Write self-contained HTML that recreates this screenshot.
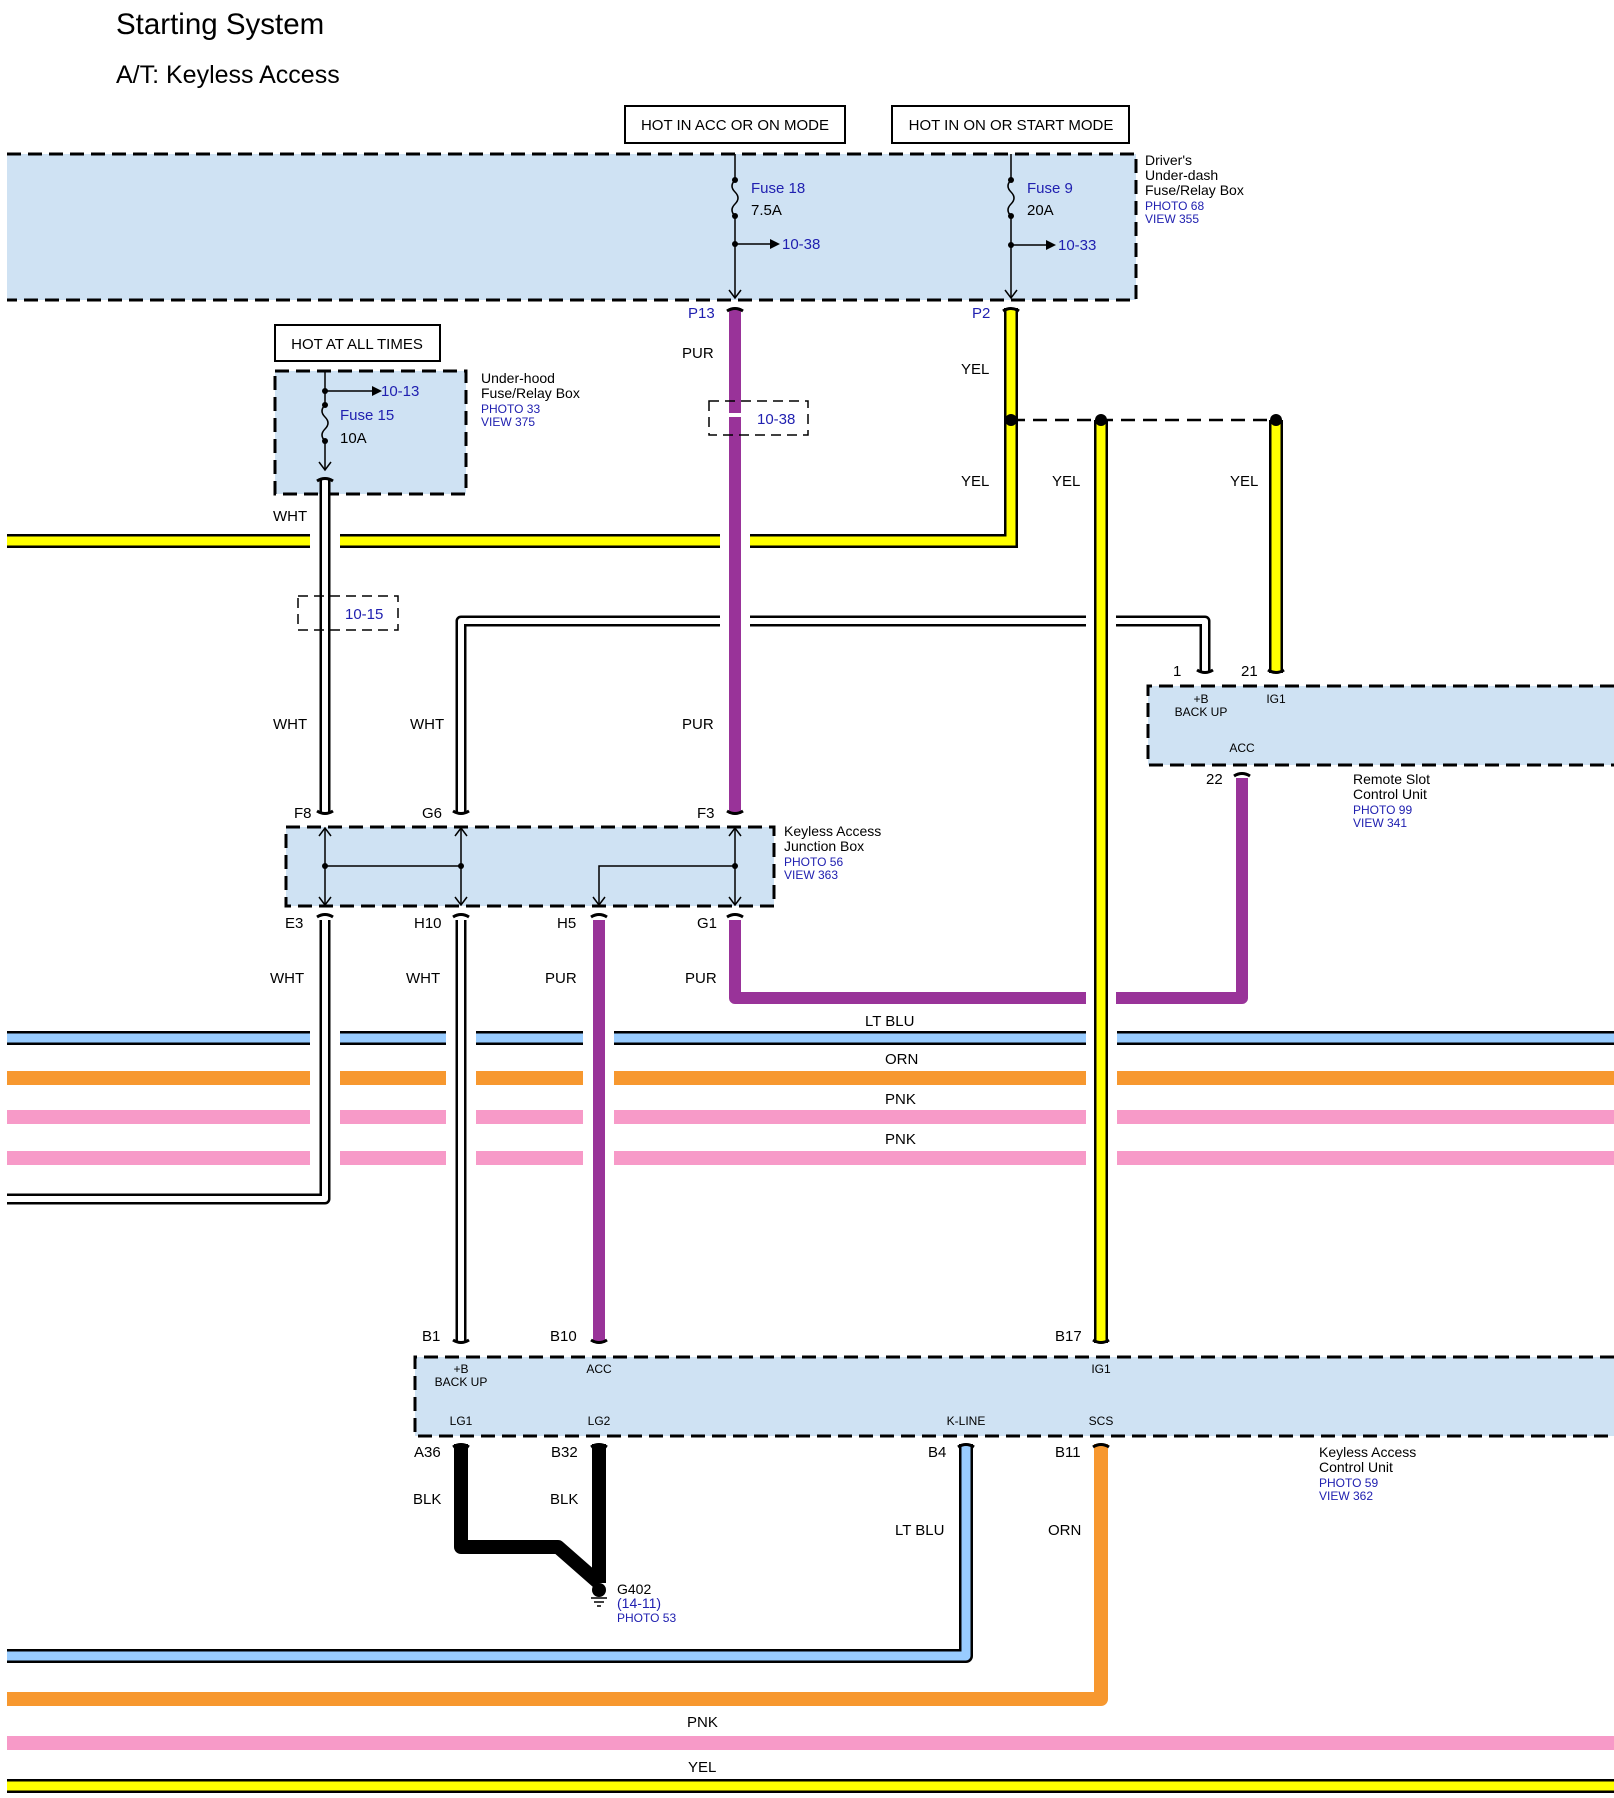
<!DOCTYPE html>
<html><head><meta charset="utf-8"><style>
html,body{margin:0;padding:0;background:#fff}
svg{display:block}
text{font-family:"Liberation Sans",Arial,sans-serif;fill:#000}
.b{fill:#2020b0}
</style></head><body>
<svg width="1614" height="1798" viewBox="0 0 1614 1798" xmlns="http://www.w3.org/2000/svg">
<text x="116" y="34" font-size="29.5">Starting System</text>
<text x="116" y="83" font-size="25">A/T: Keyless Access</text>

<!-- boxes -->
<g stroke="#000" stroke-width="3" stroke-dasharray="14,7" fill="#cfe2f3">
<path d="M7 154 H1136 V300 H7"/>
<rect x="275" y="371" width="191" height="123"/>
<path d="M1614 686 H1148 V765 H1614"/>
<rect x="286" y="827" width="488" height="79"/>
<path d="M1614 1357 H415 V1436 H1614"/>
</g>
<g fill="#fff" stroke="#000" stroke-width="2">
<rect x="625" y="106" width="220" height="37"/>
<rect x="892" y="106" width="237" height="37"/>
<rect x="275" y="325" width="165" height="36"/>
</g>
<g font-size="15">
<text x="735" y="130" text-anchor="middle">HOT IN ACC OR ON MODE</text>
<text x="1011" y="130" text-anchor="middle">HOT IN ON OR START MODE</text>
<text x="357" y="349" text-anchor="middle">HOT AT ALL TIMES</text>
</g>

<!-- fuse lines -->
<g stroke="#000" stroke-width="1.5" fill="none">
<path d="M735 154 V180 q-6 6 0 12 q6 6 0 12 q-6 6 0 12 V297"/>
<path d="M1011 154 V180 q-6 6 0 12 q6 6 0 12 q-6 6 0 12 V297"/>
<path d="M735 244 H770"/><path d="M1011 245 H1046"/>
<path d="M325 371 V405 q-6 6 0 12 q6 6 0 12 q-6 6 0 12 V470"/>
<path d="M325 391 H372"/>
<path d="M729 290 l6 8 l6 -8 M1005 290 l6 8 l6 -8 M319 462 l6 8 l6 -8"/>
</g>
<g fill="#000">
<circle cx="735" cy="180" r="3"/><circle cx="735" cy="216" r="3"/><circle cx="735" cy="244" r="3"/>
<circle cx="1011" cy="180" r="3"/><circle cx="1011" cy="216" r="3"/><circle cx="1011" cy="245" r="3"/>
<circle cx="325" cy="405" r="3"/><circle cx="325" cy="441" r="3"/><circle cx="325" cy="391" r="3"/>
<path d="M770 239 l10 5 l-10 5z M1046 240 l10 5 l-10 5z M372 386 l10 5 l-10 5z"/>
</g>
<g font-size="15">
<text x="751" y="193" class="b">Fuse 18</text><text x="751" y="215">7.5A</text>
<text x="782" y="249" class="b">10-38</text>
<text x="1027" y="193" class="b">Fuse 9</text><text x="1027" y="215">20A</text>
<text x="1058" y="250" class="b">10-33</text>
<text x="340" y="420" class="b">Fuse 15</text><text x="340" y="443">10A</text>
<text x="381" y="396" class="b">10-13</text>
</g>
<g font-size="14">
<text x="1145" y="165">Driver's</text><text x="1145" y="180">Under-dash</text><text x="1145" y="195">Fuse/Relay Box</text>
<text x="1145" y="210" class="b" font-size="12">PHOTO 68</text><text x="1145" y="223" class="b" font-size="12">VIEW 355</text>
<text x="481" y="383">Under-hood</text><text x="481" y="398">Fuse/Relay Box</text>
<text x="481" y="413" class="b" font-size="12">PHOTO 33</text><text x="481" y="426" class="b" font-size="12">VIEW 375</text>
<text x="784" y="836">Keyless Access</text><text x="784" y="851">Junction Box</text>
<text x="784" y="866" class="b" font-size="12">PHOTO 56</text><text x="784" y="879" class="b" font-size="12">VIEW 363</text>
<text x="1353" y="784">Remote Slot</text><text x="1353" y="799">Control Unit</text>
<text x="1353" y="814" class="b" font-size="12">PHOTO 99</text><text x="1353" y="827" class="b" font-size="12">VIEW 341</text>
<text x="1319" y="1457">Keyless Access</text><text x="1319" y="1472">Control Unit</text>
<text x="1319" y="1487" class="b" font-size="12">PHOTO 59</text><text x="1319" y="1500" class="b" font-size="12">VIEW 362</text>
<text x="617" y="1594">G402</text><text x="617" y="1608" class="b">(14-11)</text>
<text x="617" y="1622" class="b" font-size="12">PHOTO 53</text>
</g>

<!-- bus horizontal lines -->
<g fill="none">
<path d="M7 541 H1011 V308" stroke="#000" stroke-width="14"/>
<path d="M7 541 H1011 V308" stroke="#ff0" stroke-width="9"/>
<path d="M7 1038 H1614" stroke="#000" stroke-width="14"/>
<path d="M7 1038 H1614" stroke="#99ccff" stroke-width="9"/>
<path d="M7 1078 H1614" stroke="#f7982f" stroke-width="14"/>
<path d="M7 1117 H1614" stroke="#f79ac8" stroke-width="14"/>
<path d="M7 1158 H1614" stroke="#f79ac8" stroke-width="14"/>
<path d="M461 814 V621 H1205 V673" stroke="#000" stroke-width="11" stroke-linejoin="round"/>
<path d="M461 814 V621 H1205 V673" stroke="#fff" stroke-width="6" stroke-linejoin="round"/>
</g>
<!-- gaps -->
<g fill="#fff">
<rect x="310" y="530" width="30" height="22"/><rect x="720" y="530" width="30" height="22"/>
<rect x="720" y="612" width="30" height="18"/><rect x="1086" y="612" width="30" height="18"/>
<rect x="310" y="1028" width="30" height="140"/><rect x="446" y="1028" width="30" height="140"/>
<rect x="583" y="1028" width="31" height="140"/><rect x="1086" y="1028" width="31" height="140"/>
</g>

<g fill="none" stroke-linejoin="round">
<path d="M735 308 V814" stroke="#993399" stroke-width="12"/>
<path d="M735 920 V998 H1242 V778" stroke="#993399" stroke-width="12"/>
<rect x="1086" y="985" width="30" height="26" fill="#fff" stroke="none"/>
<path d="M599 920 V1343" stroke="#993399" stroke-width="12"/>
<path d="M1101 420 V1343" stroke="#000" stroke-width="14"/>
<path d="M1101 420 V1343" stroke="#ff0" stroke-width="9"/>
<path d="M1276 420 V673" stroke="#000" stroke-width="14"/>
<path d="M1276 420 V673" stroke="#ff0" stroke-width="9"/>
<path d="M1011 420 H1276" stroke="#000" stroke-width="2.5" stroke-dasharray="14,8"/>
<path d="M325 478 V814" stroke="#000" stroke-width="11"/>
<path d="M325 478 V814" stroke="#fff" stroke-width="6"/>
<path d="M325 920 V1199 H7" stroke="#000" stroke-width="11"/>
<path d="M325 920 V1199 H7" stroke="#fff" stroke-width="6"/>
<path d="M461 920 V1343" stroke="#000" stroke-width="11"/>
<path d="M461 920 V1343" stroke="#fff" stroke-width="6"/>
<path d="M461 1444 V1547 H558 L599 1583" stroke="#000" stroke-width="14"/>
<path d="M599 1444 V1583" stroke="#000" stroke-width="14"/>
<path d="M966 1444 V1656 H7" stroke="#000" stroke-width="14"/>
<path d="M966 1444 V1656 H7" stroke="#99ccff" stroke-width="9"/>
<path d="M1101 1444 V1699 H7" stroke="#f7982f" stroke-width="14"/>
<path d="M7 1743 H1614" stroke="#f79ac8" stroke-width="14"/>
<path d="M7 1786 H1614" stroke="#000" stroke-width="14"/>
<path d="M7 1786 H1614" stroke="#ff0" stroke-width="9"/>
</g>
<g fill="none" stroke="#000" stroke-width="1.5" stroke-dasharray="10,6">
<rect x="709" y="401" width="99" height="34"/>
<rect x="298" y="596" width="100" height="34"/>
</g>
<rect x="727" y="413" width="16" height="4" fill="#fff"/>
<text x="757" y="424" font-size="15" class="b">10-38</text>
<text x="345" y="619" font-size="15" class="b">10-15</text>
<g fill="#000">
<circle cx="1011" cy="420" r="6"/><circle cx="1101" cy="420" r="6"/><circle cx="1276" cy="420" r="6"/>
<circle cx="599" cy="1590" r="7"/>
</g>
<path d="M591 1598 H607 M594 1602 H604 M597 1606 H601" stroke="#000" stroke-width="1.5"/>

<g stroke="#000" stroke-width="1.5" fill="none">
<path d="M325 828 V905 M461 828 V905 M735 828 V905 M325 866 H461 M599 905 V866 H735"/>
<path d="M319 836 l6 -8 l6 8 M319 897 l6 8 l6 -8 M455 836 l6 -8 l6 8 M455 897 l6 8 l6 -8 M729 836 l6 -8 l6 8 M729 897 l6 8 l6 -8 M593 897 l6 8 l6 -8"/>
</g>
<g fill="#000"><circle cx="325" cy="866" r="3"/><circle cx="461" cy="866" r="3"/><circle cx="735" cy="866" r="3"/></g>

<g fill="none" stroke="#000" stroke-width="3">
<path d="M727 311 q8 -5 16 0 M1003 311 q8 -5 16 0 M317 481 q8 -5 16 0"/>
<path d="M317 811 q8 5 16 0 M453 811 q8 5 16 0 M727 811 q8 5 16 0"/>
<path d="M317 917 q8 -5 16 0 M453 917 q8 -5 16 0 M591 917 q8 -5 16 0 M727 917 q8 -5 16 0"/>
<path d="M1197 670 q8 5 16 0 M1268 670 q8 5 16 0 M1234 776 q8 -5 16 0"/>
<path d="M453 1340 q8 5 16 0 M591 1340 q8 5 16 0 M1093 1340 q8 5 16 0"/>
<path d="M453 1447 q8 -5 16 0 M591 1447 q8 -5 16 0 M958 1447 q8 -5 16 0 M1093 1447 q8 -5 16 0"/>
</g>

<g font-size="15">
<text x="688" y="318" class="b">P13</text><text x="972" y="318" class="b">P2</text>
<text x="294" y="818">F8</text><text x="422" y="818">G6</text><text x="697" y="818">F3</text>
<text x="285" y="928">E3</text><text x="414" y="928">H10</text><text x="557" y="928">H5</text><text x="697" y="928">G1</text>
<text x="1173" y="676">1</text><text x="1241" y="676">21</text><text x="1206" y="784">22</text>
<text x="422" y="1341">B1</text><text x="550" y="1341">B10</text><text x="1055" y="1341">B17</text>
<text x="414" y="1457">A36</text><text x="551" y="1457">B32</text><text x="928" y="1457">B4</text><text x="1055" y="1457">B11</text>
<text x="682" y="358">PUR</text><text x="961" y="374">YEL</text>
<text x="961" y="486">YEL</text><text x="1052" y="486">YEL</text><text x="1230" y="486">YEL</text>
<text x="273" y="521">WHT</text>
<text x="273" y="729">WHT</text><text x="410" y="729">WHT</text><text x="682" y="729">PUR</text>
<text x="270" y="983">WHT</text><text x="406" y="983">WHT</text><text x="545" y="983">PUR</text><text x="685" y="983">PUR</text>
<text x="865" y="1026">LT BLU</text><text x="885" y="1064">ORN</text><text x="885" y="1104">PNK</text><text x="885" y="1144">PNK</text>
<text x="413" y="1504">BLK</text><text x="550" y="1504">BLK</text>
<text x="895" y="1535">LT BLU</text><text x="1048" y="1535">ORN</text>
<text x="687" y="1727">PNK</text><text x="688" y="1772">YEL</text>
</g>
<g font-size="12" text-anchor="middle">
<text x="1201" y="703">+B</text><text x="1201" y="716">BACK UP</text><text x="1276" y="703">IG1</text><text x="1242" y="752">ACC</text>
<text x="461" y="1373">+B</text><text x="461" y="1386">BACK UP</text><text x="599" y="1373">ACC</text><text x="1101" y="1373">IG1</text>
<text x="461" y="1425">LG1</text><text x="599" y="1425">LG2</text><text x="966" y="1425">K-LINE</text><text x="1101" y="1425">SCS</text>
</g>
</svg>
</body></html>
